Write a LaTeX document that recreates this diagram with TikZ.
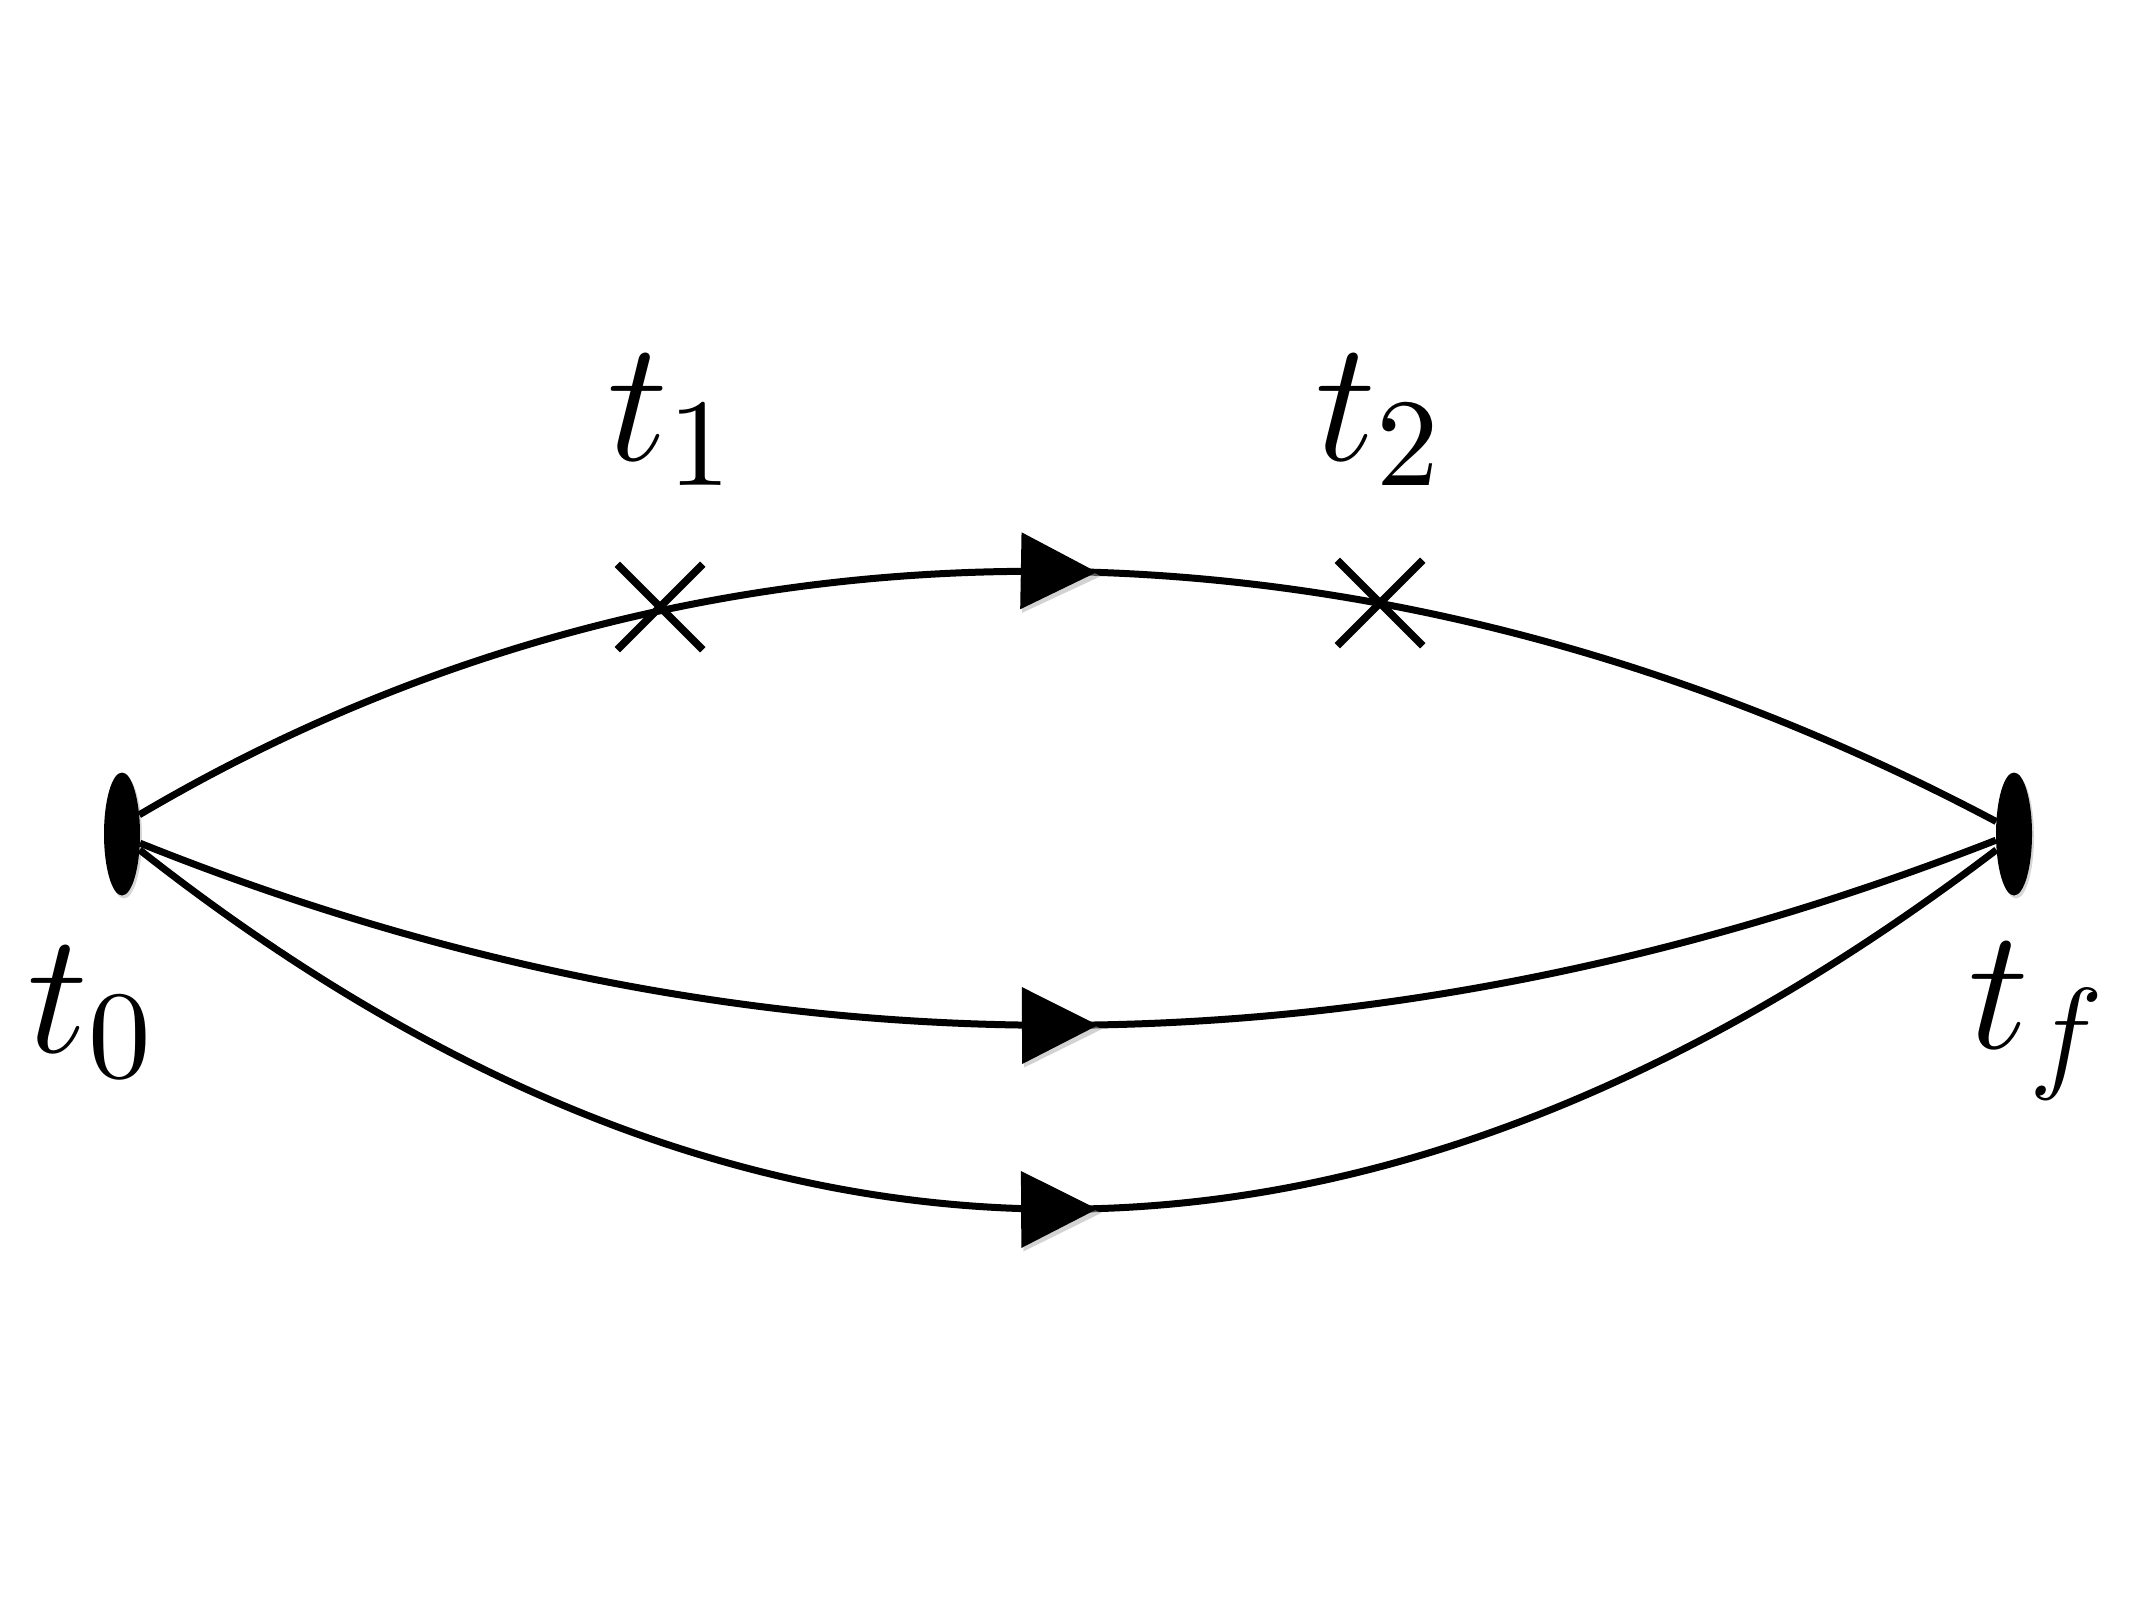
\documentclass[tikz,border=0pt]{standalone}
\usepackage{fix-cm}
\usepackage{fontspec}
\newfontfamily\lmten{lmroman10-regular.otf}
\DeclareMathSizes{172}{172}{125}{100}
\newcommand{\subdig}[1]{\mbox{\fontsize{125}{130}\selectfont\lmten #1}}
\usetikzlibrary{shapes.geometric,shapes.misc,decorations.markings,shadows}
\tikzset{
  dotnode/.style={ellipse, fill=black, minimum width=36pt, minimum height=123pt, inner sep=0pt,
    drop shadow={shadow xshift=2pt, shadow yshift=-3pt, fill=black!40, opacity=0.4}},
  xmark/.style={cross out, draw=black, line width=7.5pt, minimum size=78pt, inner sep=0pt},
  lbl/.style={anchor=base west, inner sep=0pt, font=\fontsize{172}{200}\selectfont},
  prop/.style={line width=7pt, postaction={decorate},
    decoration={markings, mark=at position 0.5 with {
      \fill[black!35, opacity=0.5] (-44pt,-42pt) -- (34pt,-4pt) -- (-44pt,34pt) -- cycle;
      \fill[black] (-46pt,-38.5pt) -- (30pt,0pt) -- (-46pt,38.5pt) -- cycle;}}},
}
\begin{document}
\begin{tikzpicture}[x=1pt,y=-1pt]
  \path[use as bounding box] (0,0) rectangle (2134,1600);
  \node[dotnode] (L) at (122,834) {};
  \node[dotnode] (R) at (2014,834) {};
  \draw[prop] (L.48) .. controls (689,490) and (1367,488) .. (R.145);
  \draw[prop] (L.-27) .. controls (748,1087) and (1367,1086) .. (R.199);
  \draw[prop] (L.-42) .. controls (748,1329) and (1367,1329) .. (R.222);
  \node[xmark] (x1) at (660,607) {};
  \node[xmark] (x2) at (1380,603) {};
  \node[lbl] (t1) at (607,460) {$t_{\subdig{1}}$};
  \node[lbl] (t2) at (1315,460) {$t_{\subdig{2}}$};
  \node[lbl] (t0) at (27,1052) {$t_{\subdig{0}}$};
  \node[lbl] (tf) at (1968,1048) {$t_f$};
\end{tikzpicture}
\end{document}
